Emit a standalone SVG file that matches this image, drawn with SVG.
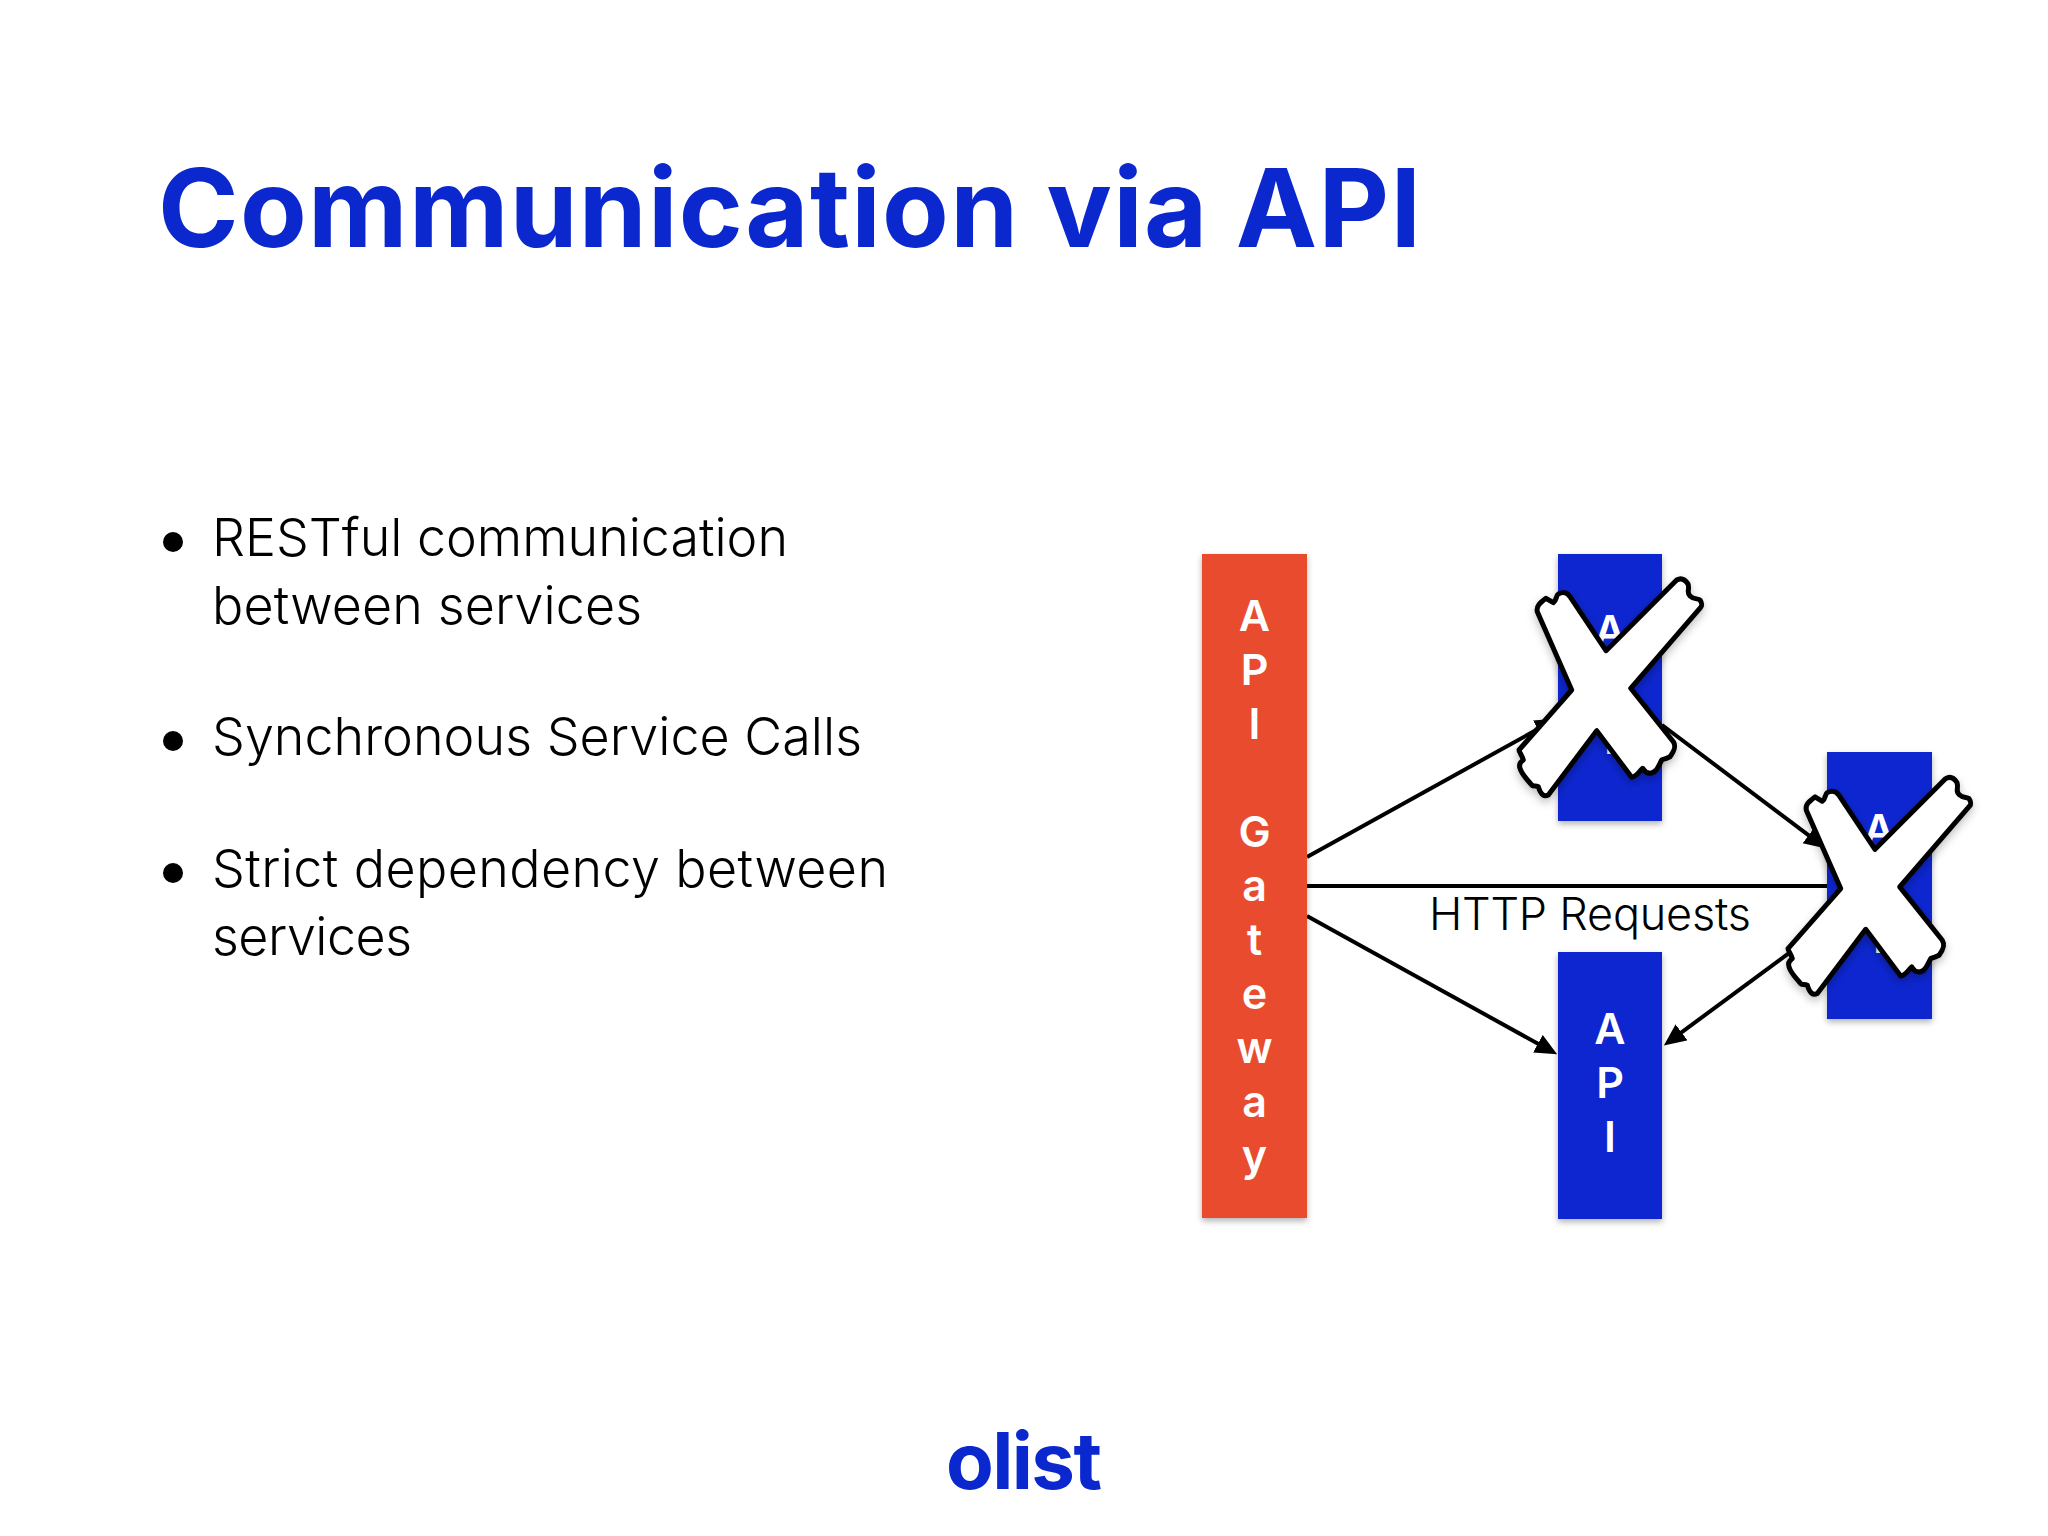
<svg xmlns="http://www.w3.org/2000/svg" width="2048" height="1536" viewBox="0 0 2048 1536">
<defs>
<style>
.title{font-family:"Inter","Liberation Sans",sans-serif;font-weight:700;font-size:109px;fill:#0b28cf}
.body{font-family:"Inter","Liberation Sans",sans-serif;font-weight:300;font-size:52px;fill:#000}
.lab{font-family:"Inter","Liberation Sans",sans-serif;font-weight:600;font-size:43px;fill:#fff;text-anchor:middle}
.http{font-family:"Inter","Liberation Sans",sans-serif;font-weight:300;font-size:45px;fill:#000}
.logo{font-family:"Inter","Liberation Sans",sans-serif;font-weight:700;font-size:78px;fill:#0b28cf}
.blue{fill:#0b28cf;filter:url(#sh)}
.orange{fill:#e84c2d;filter:url(#sh)}
.conn{stroke:#000;stroke-width:4;fill:none}
.x{fill:#fff;stroke:#000;stroke-width:5;stroke-linejoin:round;filter:url(#shx)}
</style>
<filter id="sh" x="-20%" y="-20%" width="140%" height="140%"><feDropShadow dx="0" dy="3" stdDeviation="3" flood-color="#000" flood-opacity="0.3"/></filter>
<filter id="shx" x="-20%" y="-20%" width="140%" height="140%"><feDropShadow dx="0" dy="4" stdDeviation="4" flood-color="#000" flood-opacity="0.25"/></filter>
<marker id="ah" markerUnits="userSpaceOnUse" markerWidth="24" markerHeight="22" refX="11" refY="10" orient="auto"><path d="M0 0L22 10L0 20Z" fill="#000"/></marker>
<path id="xshape" d="M1606 650.7L1676.700 580C1682 577 1686 581 1688 584C1690 590 1686 592 1690 596C1694 600 1698 598 1700 600C1702 603 1702 606 1700.700 607.300L1630.700 688.300L1673.300 741.700C1676 746 1675 750 1670 756.700C1664 760 1662 759 1661.700 760C1658 767 1656 773 1650 773.300C1644 773 1643 768 1642.700 768.300C1638 773 1636 777 1631.700 777.300L1596.700 730.700L1548.300 795C1544 797 1541 795 1538.300 786.700C1535 785 1534 787 1531.700 785C1526 778 1522 775 1520 768.300C1518 762 1523 761 1523.300 760C1522 755 1519 752 1519 750L1571.700 690L1537.300 611.700C1536 606 1540 603 1546 598.300L1553.300 602.700C1557 600 1556 595 1558.300 594C1562 592 1567 592 1570 596.700Z"/>
</defs>
<rect width="2048" height="1536" fill="#fff"/>
<text class="title" x="158" y="247" textLength="1263" lengthAdjust="spacing">Communication via API</text>
<g id="bullets">
<circle cx="173" cy="542" r="10"/><circle cx="173" cy="741" r="10"/><circle cx="173" cy="873" r="10"/>
<text class="body" x="212" y="556" textLength="576" lengthAdjust="spacing">RESTful communication</text>
<text class="body" x="212" y="624" textLength="430" lengthAdjust="spacing">between services</text>
<text class="body" x="212" y="755" textLength="650" lengthAdjust="spacing">Synchronous Service Calls</text>
<text class="body" x="212" y="887" textLength="676" lengthAdjust="spacing">Strict dependency between</text>
<text class="body" x="212" y="955" textLength="200" lengthAdjust="spacing">services</text>
</g>
<g id="connectors">
<line class="conn" x1="1307" y1="857" x2="1547.500" y2="723.800" marker-end="url(#ah)"/>
<line class="conn" x1="1307" y1="886" x2="1827" y2="886"/>
<line class="conn" x1="1307" y1="916" x2="1547.500" y2="1049" marker-end="url(#ah)"/>
<line class="conn" x1="1662" y1="725" x2="1817.400" y2="841.800" marker-end="url(#ah)"/>
<line class="conn" x1="1827" y1="925" x2="1672.700" y2="1038.900" marker-end="url(#ah)"/>
</g>
<g id="gateway">
<rect class="orange" x="1202" y="554" width="105" height="664"/>
<g class="lab"><text x="1254.500" y="631">A</text><text x="1254.500" y="685">P</text><text x="1254.500" y="739">I</text><text x="1254.500" y="847">G</text><text x="1254.500" y="901">a</text><text x="1254.500" y="955">t</text><text x="1254.500" y="1009">e</text><text x="1254.500" y="1063">w</text><text x="1254.500" y="1117">a</text><text x="1254.500" y="1171">y</text></g>
</g>
<g id="api-top">
<rect class="blue" x="1558" y="554" width="104" height="267"/>
<g class="lab"><text x="1610" y="646">A</text><text x="1610" y="700">P</text><text x="1610" y="754">I</text></g>
</g>
<g id="api-right">
<rect class="blue" x="1827" y="752" width="105" height="267"/>
<g class="lab"><text x="1879" y="845">A</text><text x="1879" y="899">P</text><text x="1879" y="953">I</text></g>
</g>
<g id="api-bottom">
<rect class="blue" x="1558" y="952" width="104" height="267"/>
<g class="lab"><text x="1610" y="1044">A</text><text x="1610" y="1098">P</text><text x="1610" y="1152">I</text></g>
</g>
<g id="cross-top"><use href="#xshape" class="x"/></g>
<g id="cross-right"><use href="#xshape" class="x" transform="translate(269 198.600)"/></g>
<text id="http-label" class="http" x="1429" y="930" textLength="322" lengthAdjust="spacing">HTTP Requests</text>
<text id="logo" class="logo" x="946" y="1489" textLength="156" lengthAdjust="spacing">olist</text>
</svg>
